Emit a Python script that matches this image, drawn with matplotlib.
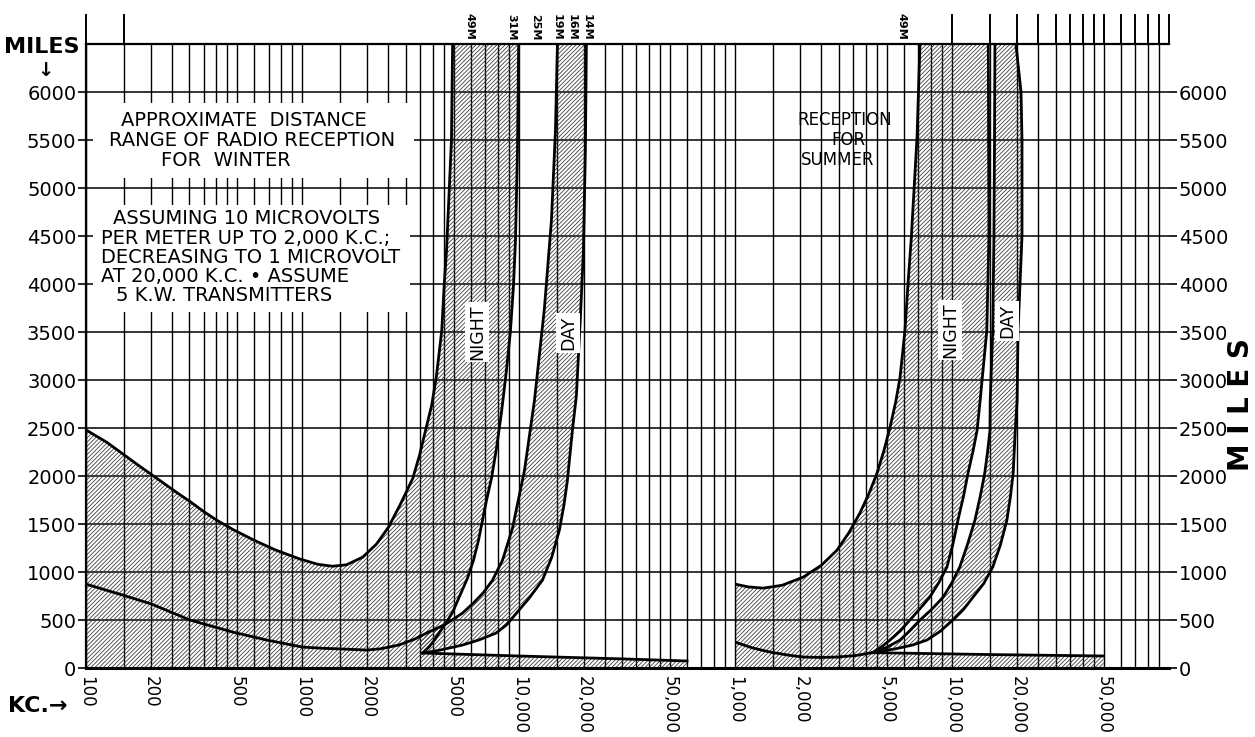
import matplotlib
matplotlib.use("Agg")
import matplotlib.pyplot as plt
from matplotlib.patches import Rectangle

plt.rcParams['font.family'] = ['DejaVu Sans']
plt.rcParams['hatch.linewidth'] = 0.6

# ---------------- data ----------------
grid_mult = [1, 1.5, 2, 2.5, 3, 3.5, 4, 4.5, 5, 6, 7, 8, 9]
miles_ticks = [0, 500, 1000, 1500, 2000, 2500, 3000, 3500, 4000, 4500, 5000, 5500, 6000]
miles_labels = ["0", "500", "1000", "1500", "2000", "2500", "3000", "3500",
                "4000", "4500", "5000", "5500", "6000"]
left_xticks = [100, 200, 500, 1000, 2000, 5000, 10000, 20000, 50000]
left_xlabels = ["100", "200", "500", "1000", "2000", "5000", "10,000", "20,000", "50,000"]
right_xticks = [1000, 2000, 5000, 10000, 20000, 50000]
right_xlabels = ["1,000", "2,000", "5,000", "10,000", "20,000", "50,000"]

# Winter (left panel)
w_night_hi_kc = [100, 125, 148, 175, 219, 260, 300, 350, 402, 480, 600, 750, 975, 1180, 1380, 1600,
                 1900, 2200, 2500, 2840, 3240, 3480, 3740, 3960, 4160, 4410, 4530, 4640, 4890, 4950]
w_night_hi_mi = [2480, 2350, 2230, 2110, 1955, 1835, 1740, 1630, 1540, 1440, 1330, 1230, 1135, 1080, 1060, 1075,
                 1154, 1290, 1466, 1706, 1976, 2215, 2506, 2735, 3026, 3515, 4004, 4347, 5500, 6500]
w_night_lo_kc = [3600, 3850, 4085, 4300, 4545, 4950, 5386, 5801, 6184, 6522, 6806, 7102, 7487, 7897, 8328,
                 8781, 9165, 9462, 9666, 9874, 10000]
w_night_lo_mi = [156, 220, 291, 370, 447, 580, 770, 936, 1123, 1331, 1539, 1747, 1976, 2288, 2662,
                 3099, 3515, 3983, 4451, 5387, 6500]
w_day_lo_kc = [100, 148, 201, 302, 477, 685, 1000, 1250, 1530, 1980, 2300, 2800, 3300, 3800, 4545, 5000, 5500,
               6200, 6900, 7570, 8420, 9363, 10640, 11830, 13150, 14170, 14790, 15110]
w_day_lo_mi = [874, 759, 666, 500, 374, 291, 218, 205, 198, 187, 200, 240, 300, 370, 450, 510, 572,
               680, 790, 915, 1123, 1456, 2059, 2787, 3744, 4659, 5595, 6500]
w_day_hi_kc = [3600, 4300, 5500, 6600, 7860, 8800, 9770, 11200, 12880, 14200, 15420, 16200, 16800, 17720,
               18490, 19290, 19920, 20340, 20560]
w_day_hi_mi = [156, 185, 239, 295, 364, 450, 572, 730, 915, 1150, 1435, 1700, 1955, 2475,
               2840, 3650, 4347, 5387, 6500]
w_floor_kc = [3600, 10000, 30000, 60000]
w_floor_mi = [156, 125, 95, 73]

# Summer (right panel)
s_night_hi_kc = [1000, 1150, 1350, 1650, 2060, 2500, 2950, 3350, 3760, 4150, 4510, 4850, 5180, 5500, 5760,
                 6070, 6270, 6480, 6900, 7120]
s_night_hi_mi = [874, 845, 832, 862, 946, 1070, 1227, 1410, 1612, 1820, 2028, 2260, 2506, 2770, 3026,
                 3515, 4004, 4450, 5530, 6500]
s_night_lo_kc = [4300, 4700, 5180, 5800, 6400, 7100, 7900, 8700, 9470, 10100, 10650, 11300, 11850, 12500,
                 13050, 13480, 14470, 14800, 14750, 14700]
s_night_lo_mi = [160, 215, 291, 390, 500, 615, 738, 890, 1050, 1290, 1539, 1790, 2028, 2260,
                 2475, 2787, 3515, 4500, 5500, 6500]
s_day_lo_kc = [1000, 1200, 1450, 1750, 2060, 2500, 2950, 3600, 4300, 5000, 5760, 6400, 7120, 8100, 9100,
               10000, 10850, 11800, 12750, 13500, 14150, 14600, 14960, 15000, 15410, 15600, 15700, 15770]
s_day_lo_mi = [270, 210, 166, 135, 114, 110, 114, 130, 160, 215, 291, 390, 500, 615, 738,
               890, 1050, 1290, 1539, 1790, 2028, 2260, 2475, 2787, 3515, 4500, 5500, 6500]
s_day_hi_kc = [4300, 5500, 6600, 7660, 8800, 10100, 11300, 12500, 14000, 15400, 16700, 17900, 18600, 19140,
               19560, 19950, 20160, 21020, 21020, 20800, 19700]
s_day_hi_mi = [160, 200, 240, 291, 380, 500, 610, 738, 880, 1050, 1280, 1539, 1790, 2028,
               2475, 2787, 3515, 4500, 5500, 6000, 6500]
s_floor_kc = [4300, 15000, 50000]
s_floor_mi = [160, 140, 125]

band_labels = ["49M", "31M", "25M", "19M", "16M", "14M"]
band_kc = [5920, 9260, 11860, 14970, 17600, 20700]
summer_band_labels = ["49M"]
summer_band_kc = [5880]
left_ext_kc = [100, 150]
right_ext_kc = [10000, 15000, 20000, 25000, 30000, 35000, 40000, 45000, 50000,
                60000, 70000, 80000, 90000, 100000]

# ---------------- layout ----------------
W, H = 1255, 737
fig = plt.figure(figsize=(W / 100, H / 100), dpi=100)
PX_L, PX_M, PX_R, PX_T, PX_B = 86, 735, 1169, 44, 668
axL = fig.add_axes([PX_L / W, (H - PX_B) / H, (PX_M - PX_L) / W, (PX_B - PX_T) / H])
axR = fig.add_axes([PX_M / W, (H - PX_B) / H, (PX_R - PX_M) / W, (PX_B - PX_T) / H])

YTOP = 6500
EXT = 6800
HATCH_C = '#404040'
LW_CURVE = 2.0

def fx(px):
    return px / W

def fy(py):
    return 1 - py / H

def setup(ax, lo, hi, decades):
    ax.set_xscale('log')
    ax.set_xlim(lo, hi)
    ax.set_ylim(0, YTOP)
    for d in decades:
        for m in grid_mult:
            v = m * 10 ** d
            if lo <= v <= hi:
                ax.axvline(v, color='k', lw=1.0, zorder=1, clip_on=False)
    for yv in miles_ticks[1:]:
        ax.axhline(yv, color='k', lw=1.1, zorder=1)
    for s in ['left', 'right']:
        ax.spines[s].set_visible(False)
    ax.spines['top'].set_linewidth(1.6)
    ax.spines['bottom'].set_linewidth(2.2)
    ax.minorticks_off()
    ax.set_yticks(miles_ticks)
    ax.tick_params(axis='x', length=0, pad=6, labelsize=12, labelrotation=270)

setup(axL, 100, 100000, [2, 3, 4])
setup(axR, 1000, 100000, [3, 4])

axL.set_xticks(left_xticks)
axL.set_xticklabels(left_xlabels, va='top')
axR.set_xticks(right_xticks)
axR.set_xticklabels(right_xlabels, va='top')
axL.set_yticklabels(miles_labels)
axL.tick_params(axis='y', length=6, width=1.2, pad=1, labelsize=14, left=True, right=False)
axL.spines['left'].set_visible(True)
axL.spines['left'].set_linewidth(1.6)
axR.yaxis.tick_right()
axR.set_yticklabels(miles_labels)
axR.tick_params(axis='y', length=6, width=1.2, pad=1, labelsize=14, right=True, left=False)

# extension lines above the top border
for v in left_ext_kc:
    axL.plot([v, v], [YTOP, EXT], color='k', lw=1.4, clip_on=False, zorder=1)
for v in right_ext_kc:
    axR.plot([v, v], [YTOP, EXT], color='k', lw=1.4, clip_on=False, zorder=1)

def hatch(ax, xs, ys):
    ax.fill(xs, ys, facecolor='none', edgecolor=HATCH_C, hatch='////////', linewidth=0, zorder=2)

# ---- winter polygons ----
hatch(axL,
      [100] + w_night_hi_kc + w_night_lo_kc[::-1] + w_floor_kc[1:] + [w_floor_kc[-1]],
      [0] + w_night_hi_mi + w_night_lo_mi[::-1] + w_floor_mi[1:] + [0])
k = [i for i, v in enumerate(w_day_lo_kc) if v >= 3300][0]
hatch(axL, w_day_hi_kc + w_day_lo_kc[k:][::-1], w_day_hi_mi + w_day_lo_mi[k:][::-1])

for xs, ys in [(w_night_hi_kc, w_night_hi_mi), (w_night_lo_kc, w_night_lo_mi),
               (w_day_lo_kc, w_day_lo_mi), (w_day_hi_kc, w_day_hi_mi), (w_floor_kc, w_floor_mi)]:
    axL.plot(xs, ys, color='k', lw=LW_CURVE, zorder=3, solid_joinstyle='round')

# ---- summer polygons ----
hatch(axR,
      [1000] + s_night_hi_kc + s_night_lo_kc[::-1] + s_floor_kc[1:] + [s_floor_kc[-1]],
      [0] + s_night_hi_mi + s_night_lo_mi[::-1] + s_floor_mi[1:] + [0])
k = [i for i, v in enumerate(s_day_lo_kc) if v >= 3600][0]
hatch(axR, s_day_hi_kc + s_day_lo_kc[k:][::-1], s_day_hi_mi + s_day_lo_mi[k:][::-1])

for xs, ys in [(s_night_hi_kc, s_night_hi_mi), (s_night_lo_kc, s_night_lo_mi),
               (s_day_lo_kc, s_day_lo_mi), (s_day_hi_kc, s_day_hi_mi), (s_floor_kc, s_floor_mi)]:
    axR.plot(xs, ys, color='k', lw=LW_CURVE, zorder=3, solid_joinstyle='round')
axR.plot([1000, 1000], [0, s_night_hi_mi[0]], color='k', lw=1.6, zorder=3)

# ---- band wavelength labels ----
for lab, v in zip(band_labels, band_kc):
    axL.text(v, YTOP + 40, lab, rotation=270, ha='center', va='bottom', fontsize=8,
             fontweight='bold', clip_on=False)
for lab, v in zip(summer_band_labels, summer_band_kc):
    axR.text(v, YTOP + 40, lab, rotation=270, ha='center', va='bottom', fontsize=8,
             fontweight='bold', clip_on=False)

# ---- NIGHT / DAY labels ----
lab_box = dict(facecolor='white', edgecolor='none', boxstyle='square,pad=0.15')
for txt, px, py in [("NIGHT", 477, 332), ("DAY", 568, 333), ("NIGHT", 950, 330), ("DAY", 1007, 321)]:
    fig.text(fx(px), fy(py), txt, rotation=90, ha='center', va='center', fontsize=12.5,
             bbox=lab_box, zorder=6)

# ---- text blocks with white backgrounds ----
for (x0, y0, x1, y1) in [(93, 103, 414, 178), (93, 205, 410, 312), (788, 104, 902, 176)]:
    axL.add_artist(Rectangle((fx(x0), fy(y1)), fx(x1) - fx(x0), fy(y0) - fy(y1),
                             transform=fig.transFigure, facecolor='white', edgecolor='none',
                             zorder=4, clip_on=False))

for txt, px, py, ha in [("APPROXIMATE  DISTANCE", 244, 121, 'center'),
                        ("RANGE OF RADIO RECEPTION", 252, 141, 'center'),
                        ("FOR  WINTER", 226, 160, 'center'),
                        ("ASSUMING 10 MICROVOLTS", 113, 218, 'left'),
                        ("PER METER UP TO 2,000 K.C.;", 101, 238, 'left'),
                        ("DECREASING TO 1 MICROVOLT", 101, 257, 'left'),
                        ("AT 20,000 K.C. \u2022 ASSUME", 101, 277, 'left'),
                        ("5 K.W. TRANSMITTERS", 116, 296, 'left')]:
    fig.text(fx(px), fy(py), txt, ha=ha, va='center', fontsize=14, zorder=7)

for txt, px, py in [("RECEPTION", 845, 120), ("FOR", 848, 140), ("SUMMER", 838, 160)]:
    fig.text(fx(px), fy(py), txt, ha='center', va='center', fontsize=12, zorder=7)

# ---- axis titles ----
fig.text(fx(42), fy(47), "MILES", ha='center', va='center', fontsize=16, fontweight='bold')
fig.text(fx(45), fy(71), "\u2193", ha='center', va='center', fontsize=14, fontweight='bold')
fig.text(fx(38), fy(706), "KC.\u2192", ha='center', va='center', fontsize=16, fontweight='bold')
fig.text(fx(1241), fy(405), "M I L E S", rotation=90, ha='center', va='center',
         fontsize=20, fontweight='bold')

fig.savefig("out.png", dpi=100, facecolor='white')
